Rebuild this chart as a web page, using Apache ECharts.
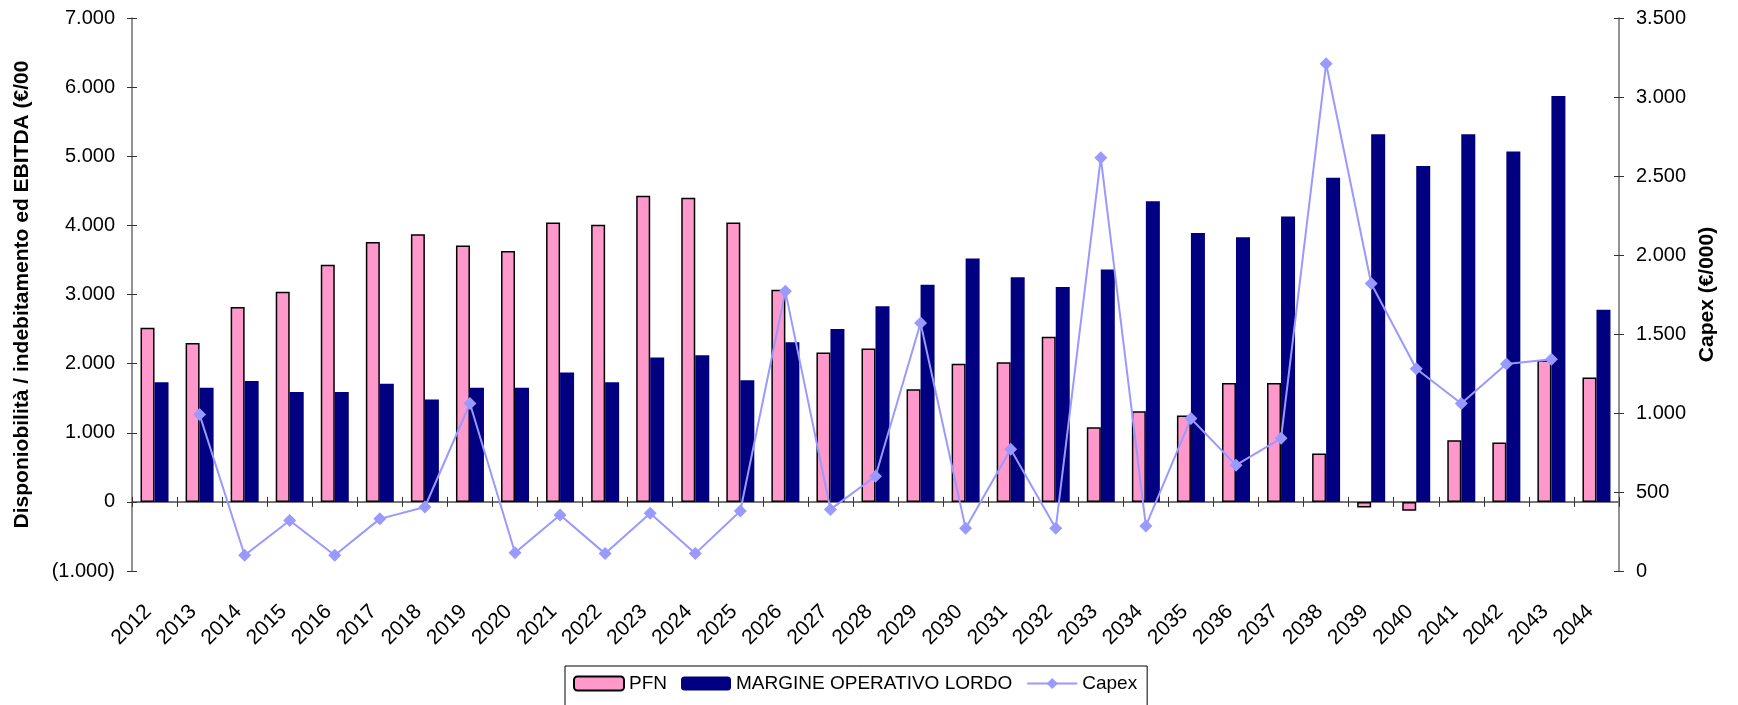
<!DOCTYPE html>
<html>
<head>
<meta charset="UTF-8">
<script src="https://cdn.jsdelivr.net/npm/echarts@6/dist/echarts.min.js"></script>
<style>
html, body { margin: 0; padding: 0; background: #fff; }
#main { width: 1738px; height: 705px; }
</style>
</head>
<body>
<div id="main"></div>
<script>
var years = ['2012','2013','2014','2015','2016','2017','2018','2019','2020','2021','2022',
             '2023','2024','2025','2026','2027','2028','2029','2030','2031','2032','2033',
             '2034','2035','2036','2037','2038','2039','2040','2041','2042','2043','2044'];

var pfn = [2520, 2300, 2820, 3040, 3430, 3760, 3870, 3710, 3630, 4040, 4010,
           4430, 4400, 4040, 3070, 2160, 2220, 1630, 2000, 2020, 2390, 1080,
           1310, 1250, 1720, 1720, 700, -80, -130, 890, 860, 2050, 1800];

var mol = [1730, 1650, 1750, 1590, 1590, 1710, 1480, 1650, 1650, 1870, 1730,
           2090, 2120, 1760, 2310, 2500, 2830, 3140, 3520, 3250, 3110, 3360,
           4350, 3890, 3830, 4130, 4690, 5320, 4860, 5320, 5070, 5870, 2780];

var capex = [null, 990, 100, 320, 100, 330, 405, 1060, 115, 355, 110,
             365, 110, 380, 1770, 390, 600, 1570, 270, 770, 270, 2615,
             285, 965, 670, 840, 3210, 1820, 1280, 1060, 1310, 1340, null];

var leftTicks = { min: -1000, max: 7000, interval: 1000 };
var rightTicks = { min: 0, max: 3500, interval: 500 };

var FONT = '"Liberation Sans", Arial, sans-serif';
var AXIS_GRAY = '#6e6e6e';

function fmt(v) {
    var s = Math.abs(v).toString().replace(/\B(?=(\d{3})+(?!\d))/g, '.');
    return v < 0 ? '(' + s + ')' : s;
}

var chart = echarts.init(document.getElementById('main'));

chart.setOption({
    animation: false,
    backgroundColor: '#fff',
    textStyle: { fontFamily: FONT },
    grid: [
        { left: 132, right: 119, top: 18, bottom: 134 },
        { left: 132, right: 119, top: 18, bottom: 134 }
    ],
    legend: {
        left: 565,
        top: 666,
        padding: [8, 10, 20, 8],
        borderColor: '#000',
        borderWidth: 1,
        itemWidth: 50,
        itemHeight: 14,
        itemGap: 14,
        textStyle: { fontSize: 19, color: '#000', fontFamily: FONT },
        data: ['PFN', 'MARGINE OPERATIVO LORDO', 'Capex']
    },
    xAxis: [
        {   // year labels at the bottom of the plot
            gridIndex: 0,
            type: 'category',
            data: years,
            position: 'bottom',
            axisLine: { show: false, onZero: false },
            axisTick: { show: false },
            axisLabel: {
                rotate: 45, interval: 0, fontSize: 21, color: '#000',
                margin: 31, padding: [0, 9, 0, 0], fontFamily: FONT
            }
        },
        {   // zero line, upward ticks
            gridIndex: 0,
            type: 'category',
            data: years,
            position: 'top',
            axisLine: { show: true, onZero: true, lineStyle: { color: AXIS_GRAY, width: 1.5 } },
            axisTick: { show: true, length: 5, lineStyle: { color: '#333' } },
            axisLabel: { show: false }
        },
        {   // zero line, downward ticks
            gridIndex: 1,
            type: 'category',
            data: years,
            position: 'bottom',
            axisLine: { show: true, onZero: true, lineStyle: { color: AXIS_GRAY, width: 1.5 } },
            axisTick: { show: true, length: 5, lineStyle: { color: '#333' } },
            axisLabel: { show: false }
        }
    ],
    yAxis: [
        {
            gridIndex: 0,
            type: 'value',
            position: 'left',
            min: leftTicks.min, max: leftTicks.max, interval: leftTicks.interval,
            name: 'Disponiobilità / indebitamento ed EBITDA (€/000)',
            nameLocation: 'middle',
            nameGap: 99,
            nameTruncate: { maxWidth: 478, ellipsis: '' },
            nameTextStyle: { fontSize: 21, fontWeight: 'bold', color: '#000', fontFamily: FONT },
            axisLine: { show: true, onZero: false, lineStyle: { color: AXIS_GRAY, width: 1.5 } },
            axisTick: { show: true, length: 5, lineStyle: { color: '#333' } },
            axisLabel: { fontSize: 20, color: '#000', margin: 17, formatter: fmt, fontFamily: FONT },
            splitLine: { show: false }
        },
        {
            gridIndex: 0,
            type: 'value',
            position: 'right',
            min: rightTicks.min, max: rightTicks.max, interval: rightTicks.interval,
            name: 'Capex (€/000)',
            nameLocation: 'middle',
            nameGap: 78,
            nameTextStyle: { fontSize: 21, fontWeight: 'bold', color: '#000', fontFamily: FONT },
            axisLine: { show: true, onZero: false, lineStyle: { color: AXIS_GRAY, width: 1.5 } },
            axisTick: { show: true, length: 5, lineStyle: { color: '#333' } },
            axisLabel: { fontSize: 20, color: '#000', margin: 17, formatter: fmt, fontFamily: FONT },
            splitLine: { show: false }
        },
        {
            gridIndex: 1,
            type: 'value',
            position: 'left',
            min: leftTicks.min, max: leftTicks.max, interval: leftTicks.interval,
            axisLine: { show: false, onZero: false },
            axisTick: { show: true, inside: true, length: 5, lineStyle: { color: '#333' } },
            axisLabel: { show: false },
            splitLine: { show: false }
        },
        {
            gridIndex: 1,
            type: 'value',
            position: 'right',
            min: rightTicks.min, max: rightTicks.max, interval: rightTicks.interval,
            axisLine: { show: false, onZero: false },
            axisTick: { show: true, inside: true, length: 5, lineStyle: { color: '#333' } },
            axisLabel: { show: false },
            splitLine: { show: false }
        }
    ],
    series: [
        {
            name: 'PFN',
            type: 'bar',
            xAxisIndex: 0,
            yAxisIndex: 0,
            data: pfn,
            barWidth: 14,
            barGap: '0%',
            itemStyle: { color: '#FF99CC', borderColor: '#000', borderWidth: 1.5 }
        },
        {
            name: 'MARGINE OPERATIVO LORDO',
            type: 'bar',
            xAxisIndex: 0,
            yAxisIndex: 0,
            data: mol,
            barWidth: 14,
            barGap: '0%',
            itemStyle: { color: '#000080' }
        },
        {
            name: 'Capex',
            type: 'line',
            xAxisIndex: 0,
            yAxisIndex: 1,
            data: capex,
            symbol: 'diamond',
            symbolSize: 13,
            connectNulls: false,
            z: 5,
            lineStyle: { color: '#9999FF', width: 2 },
            itemStyle: { color: '#9999FF' }
        }
    ]
});
</script>
</body>
</html>
